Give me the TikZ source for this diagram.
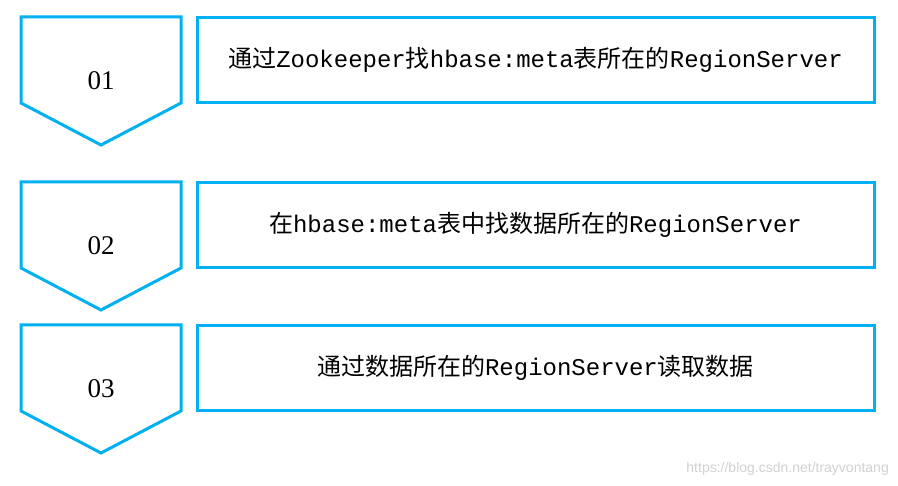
\documentclass[tikz,border=0pt]{standalone}
\usepackage{fontspec}
\usepackage{tikz}
\setmainfont{Liberation Serif}
\newfontfamily\cjk{Noto Sans CJK SC}
\newfontfamily\latinfont{Liberation Mono}
\newfontfamily\urlfont{Liberation Sans}
\definecolor{stepblue}{HTML}{00B0F0}
\newcommand{\lt}[1]{{\latinfont #1}}
\newcommand{\stepitem}[4]{
  \draw[stepline] (21,#1) -- (181,#1) -- (181,#1+86) -- (101,#1+128)
        -- (21,#1+86) -- cycle;
  \node[numlabel] (num#2) at (101,#1+64) {#2};
  \node[stepbox] (box#2) at (535.5,#1+43) {#3};
}
\tikzset{
  stepline/.style = {draw=stepblue, line width=3pt, line join=miter},
  numlabel/.style = {font=\fontsize{27}{31}\selectfont, inner sep=0pt},
  stepbox/.style  = {draw=stepblue, line width=3pt, minimum width=677pt,
                     minimum height=85pt, inner sep=0pt,
                     font=\cjk\fontsize{24}{28}\selectfont}
}

\begin{document}
\begin{tikzpicture}[x=1pt,y=-1pt]
	\useasboundingbox (0,0) rectangle (898,486);
	\stepitem{17}{01}{通过\lt{Zookeeper}找\lt{hbase:meta}表所在的\lt{RegionServer}}{}
	\stepitem{182}{02}{在\lt{hbase:meta}表中找数据所在的\lt{RegionServer}}{}
	\stepitem{325}{03}{通过数据所在的\lt{RegionServer}读取数据}{}
	\node[text=black!18, font=\urlfont\fontsize{14}{16}\selectfont,
	      anchor=east, inner sep=0pt] (mark) at (889,469)
	      {https://blog.csdn.net/trayvontang};
\end{tikzpicture}
\end{document}
